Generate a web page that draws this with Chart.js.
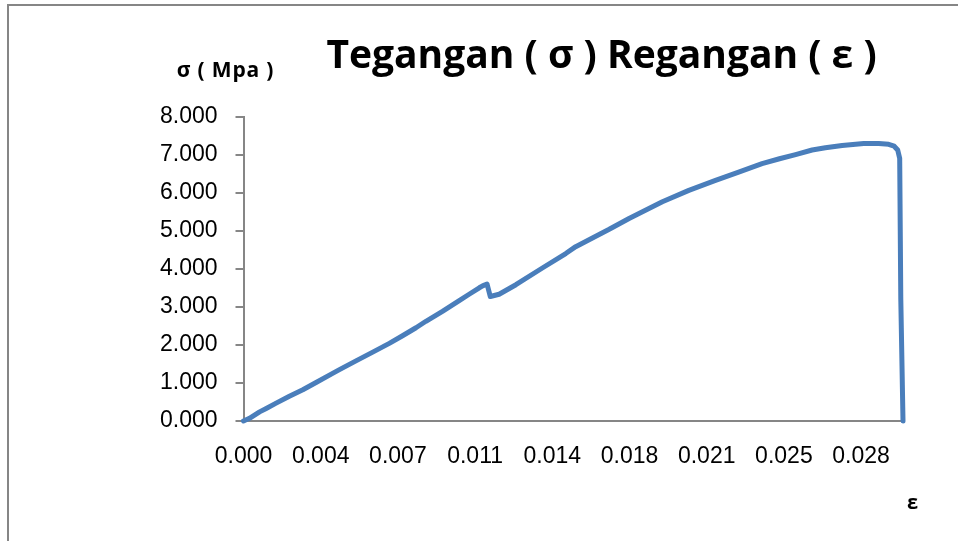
<!DOCTYPE html>
<html>
<head>
<meta charset="utf-8">
<script src="https://cdn.jsdelivr.net/npm/chart.js@4/dist/chart.umd.min.js"></script>
<style>
  html, body { margin: 0; padding: 0; background: #ffffff; }
  #wrap { position: relative; width: 958px; height: 541px; }
</style>
</head>
<body>
<div id="wrap"><canvas id="chart" width="958" height="541"></canvas></div>
<script>
// Tensile test: strain (ε) and stress (σ, MPa)
const strain = [
  0.00000, 0.00027, 0.00073, 0.00103, 0.00148, 0.00208, 0.00269, 0.00329,
  0.00404, 0.00435, 0.00510, 0.00586, 0.00661, 0.00721, 0.00782, 0.00827,
  0.00902, 0.00978, 0.01023, 0.01069, 0.01084, 0.01104, 0.01119, 0.01159,
  0.01235, 0.01355, 0.01461, 0.01506, 0.01582, 0.01656, 0.01748, 0.01899,
  0.02019, 0.02140, 0.02245, 0.02351, 0.02430, 0.02503, 0.02578, 0.02638,
  0.02714, 0.02812, 0.02880, 0.02925, 0.02950, 0.02966, 0.02975, 0.02980,
  0.02990
];
const stress = [
  0.000, 0.070, 0.240, 0.330, 0.470, 0.650, 0.820, 1.010,
  1.250, 1.350, 1.580, 1.810, 2.040, 2.240, 2.450, 2.620,
  2.880, 3.160, 3.330, 3.500, 3.550, 3.600, 3.270, 3.330,
  3.580, 4.020, 4.400, 4.580, 4.810, 5.030, 5.320, 5.760,
  6.060, 6.320, 6.540, 6.760, 6.890, 7.000, 7.120, 7.180,
  7.240, 7.290, 7.290, 7.270, 7.220, 7.120, 6.900, 3.200,
  0.000
];
const xTickValues = [0, 0.0035, 0.007, 0.0105, 0.014, 0.0175, 0.021, 0.0245, 0.028];
const xTickLabels = ['0.000', '0.004', '0.007', '0.011', '0.014', '0.018', '0.021', '0.025', '0.028'];
const yTickValues = [0, 1, 2, 3, 4, 5, 6, 7, 8];
const yTickLabels = ['0.000', '1.000', '2.000', '3.000', '4.000', '5.000', '6.000', '7.000', '8.000'];

const chartTitle = 'Tegangan ( σ ) Regangan ( ε )';
const yTitle = 'σ ( Mpa )';
const xTitle = 'ε';

const points = strain.map((e, i) => ({ x: e, y: stress[i] }));

const axisGrey = '#868686';
const tickFont = { family: "'Liberation Sans', Arial, sans-serif", size: 23 };

// Frame and free-standing labels around the plot
const decorations = {
  id: 'decorations',
  beforeDraw(chart) {
    const ctx = chart.ctx;
    ctx.save();
    ctx.fillStyle = '#ffffff';
    ctx.fillRect(0, 0, chart.width, chart.height);
    ctx.strokeStyle = axisGrey;
    ctx.lineWidth = 2;
    ctx.beginPath();
    ctx.moveTo(8, chart.height + 5);
    ctx.lineTo(8, 5);
    ctx.lineTo(chart.width + 5, 5);
    ctx.stroke();
    ctx.restore();
  },
  afterDraw(chart) {
    const ctx = chart.ctx;
    ctx.save();
    ctx.fillStyle = '#000000';
    ctx.textAlign = 'center';
    ctx.textBaseline = 'alphabetic';
    ctx.font = "bold 39px 'Open Sans', sans-serif";
    ctx.fillText(chartTitle, 601.5, 68);
    ctx.font = "bold 21px 'Open Sans', sans-serif";
    ctx.letterSpacing = '0.8px';
    ctx.fillText(yTitle, 225.5, 77);
    ctx.letterSpacing = '0px';
    ctx.font = "bold 20px 'Open Sans', sans-serif";
    ctx.fillText(xTitle, 912.5, 509);
    ctx.restore();
  }
};

new Chart(document.getElementById('chart'), {
  type: 'scatter',
  data: {
    datasets: [{
      data: points,
      showLine: true,
      borderColor: '#4a7ebb',
      backgroundColor: '#4a7ebb',
      borderWidth: 5,
      borderJoinStyle: 'round',
      borderCapStyle: 'round',
      pointRadius: 0,
      pointHoverRadius: 0,
      tension: 0,
      clip: false
    }]
  },
  options: {
    responsive: false,
    animation: false,
    devicePixelRatio: 1,
    layout: { padding: { left: 143.5, right: 55, top: 116.5, bottom: 60 } },
    plugins: {
      legend: { display: false },
      title: { display: false },
      tooltip: { enabled: false }
    },
    scales: {
      x: {
        type: 'linear',
        min: 0,
        max: 0.0299,
        afterBuildTicks: axis => { axis.ticks = xTickValues.map(v => ({ value: v })); },
        afterFit: axis => { axis.height = 60; },
        grid: { display: false, drawTicks: false },
        border: { display: true, color: axisGrey, width: 2 },
        ticks: {
          autoSkip: false,
          maxRotation: 0,
          minRotation: 0,
          padding: 22,
          color: '#000000',
          font: tickFont,
          callback: (v, i) => xTickLabels[i]
        }
      },
      y: {
        type: 'linear',
        min: 0,
        max: 8,
        afterBuildTicks: axis => { axis.ticks = yTickValues.map(v => ({ value: v })); },
        afterFit: axis => { axis.width = 100; },
        grid: { drawOnChartArea: false, drawTicks: true, tickLength: 8, color: axisGrey, lineWidth: 2 },
        border: { display: true, color: axisGrey, width: 2 },
        ticks: {
          padding: 18,
          color: '#000000',
          font: tickFont,
          callback: (v, i) => yTickLabels[i]
        }
      }
    }
  },
  plugins: [decorations]
});
</script>
</body>
</html>
